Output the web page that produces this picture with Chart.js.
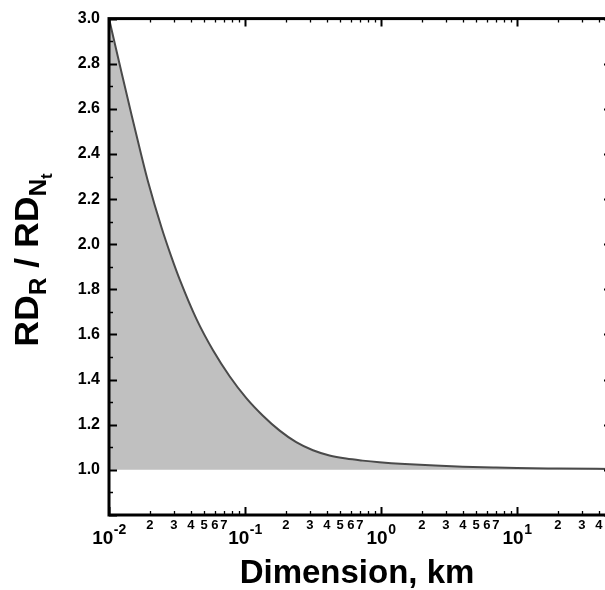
<!DOCTYPE html>
<html>
<head>
<meta charset="utf-8">
<script src="https://cdn.jsdelivr.net/npm/chart.js@4/dist/chart.umd.min.js"></script>
<style>
    html, body {
        margin: 0;
        padding: 0;
        background: #ffffff;
        overflow: hidden;
    }
    #wrap {
        position: relative;
        width: 620px;
        height: 590px;
    }
</style>
</head>
<body>
<div id="wrap"><canvas id="chart"></canvas></div>
<script>
// values
const dimensionKm = [
    0.01, 0.0125, 0.0147, 0.0172, 0.0194, 0.0244, 0.0288, 0.0332, 0.044, 0.0582,
    0.0773, 0.1023, 0.1355, 0.18, 0.238, 0.316, 0.418, 0.554, 0.734, 0.973,
    1.5, 2.5, 4, 7, 10, 20, 50,
];
const ratioValues = [
    3.0, 2.749, 2.569, 2.4, 2.276, 2.072, 1.943, 1.842, 1.668, 1.53,
    1.414, 1.318, 1.24, 1.174, 1.123, 1.087, 1.064, 1.05, 1.041, 1.034,
    1.026, 1.019, 1.014, 1.01, 1.008, 1.006, 1.004,
];
const xDecades = [-2, -1, 0, 1];
const xMinorLabels = ["2", "3", "4", "5", "6", "7"];
const yTickValues = [1.0, 1.2, 1.4, 1.6, 1.8, 2.0, 2.2, 2.4, 2.6, 2.8, 3.0];

const FONT = "'Liberation Sans', Arial, Helvetica, sans-serif";
const INK = "#000000";

const points = dimensionKm.map((x, i) => ({ x, y: ratioValues[i] }));

const frameAndTicks = {
    id: "frameAndTicks",
    afterDatasetsDraw(chart) {
        const { ctx, chartArea } = chart;
        const xs = chart.scales.x;
        const ys = chart.scales.y;
        const { left, right, top, bottom } = chartArea;
        ctx.save();
        ctx.strokeStyle = INK;

        // x ticks, top and bottom, pointing inward
        xDecades.forEach((d) => {
            for (let m = 1; m <= 9; m++) {
                const v = m * Math.pow(10, d);
                if (v > xs.max) {
                    continue;
                }
                const px = Math.round(xs.getPixelForValue(v)) + 0.5;
                const len = m === 1 ? 8 : 4;
                ctx.lineWidth = m === 1 ? 2 : 1.3;
                ctx.beginPath();
                ctx.moveTo(px, bottom);
                ctx.lineTo(px, bottom - len);
                ctx.moveTo(px, top);
                ctx.lineTo(px, top + len);
                ctx.stroke();
            }
        });

        // y ticks, left and right
        for (let k = 8; k <= 30; k++) {
            const py = Math.round(ys.getPixelForValue(k / 10)) + 0.5;
            const major = k % 2 === 0;
            const len = major ? 8 : 4;
            ctx.lineWidth = major ? 2 : 1.3;
            ctx.beginPath();
            ctx.moveTo(left, py);
            ctx.lineTo(left + len, py);
            ctx.moveTo(right, py);
            ctx.lineTo(right - len, py);
            ctx.stroke();
        }

        ctx.lineWidth = 3;
        ctx.strokeRect(left, top, right - left, bottom - top);

        // x tick labels with superscripts
        ctx.fillStyle = INK;
        ctx.textBaseline = "alphabetic";
        xDecades.forEach((d) => {
            const px = xs.getPixelForValue(Math.pow(10, d));
            ctx.font = `bold 19px ${FONT}`;
            const w1 = ctx.measureText("10").width;
            ctx.font = `bold 14px ${FONT}`;
            const sup = String(d);
            const w2 = ctx.measureText(sup).width;
            const x0 = px - (w1 + w2) / 2;
            ctx.textAlign = "left";
            ctx.font = `bold 19px ${FONT}`;
            ctx.fillText("10", x0, 544);
            ctx.font = `bold 14px ${FONT}`;
            ctx.fillText(sup, x0 + w1 + 0.5, 534);

            ctx.textAlign = "center";
            ctx.font = `bold 13px ${FONT}`;
            xMinorLabels.forEach((lab) => {
                const v = Number(lab) * Math.pow(10, d);
                if (v >= xs.max) {
                    return;
                }
                ctx.fillText(lab, xs.getPixelForValue(v), 529);
            });
        });

        // x title
        ctx.textAlign = "center";
        ctx.font = `bold 33px ${FONT}`;
        ctx.fillText("Dimension, km", 357, 583);

        // y title: RD_R / RD_Nt, rotated
        ctx.translate(38, 260);
        ctx.rotate(-Math.PI / 2);
        ctx.scale(1.05, 1);
        const parts = [
            { t: "RD", size: 34, dy: 0 },
            { t: "R", size: 23, dy: 8 },
            { t: " / RD", size: 34, dy: 0 },
            { t: "N", size: 23, dy: 8 },
            { t: "t", size: 16, dy: 14 },
        ];
        let total = 0;
        parts.forEach((p) => {
            ctx.font = `bold ${p.size}px ${FONT}`;
            p.w = ctx.measureText(p.t).width;
            total += p.w;
        });
        let cx = -total / 2;
        ctx.textAlign = "left";
        parts.forEach((p) => {
            ctx.font = `bold ${p.size}px ${FONT}`;
            ctx.fillText(p.t, cx, p.dy);
            cx += p.w;
        });
        ctx.restore();
    },
};

new Chart(document.getElementById("chart").getContext("2d"), {
    type: "line",
    data: {
        datasets: [
            {
                data: points,
                borderColor: "#4a4a4a",
                borderWidth: 2,
                backgroundColor: "#c0c0c0",
                fill: { value: 1.0 },
                pointRadius: 0,
                cubicInterpolationMode: "monotone",
            },
        ],
    },
    options: {
        responsive: true,
        maintainAspectRatio: false,
        animation: false,
        events: [],
        layout: {
            padding: { left: 0, top: 12, right: 8, bottom: 0 },
        },
        plugins: {
            legend: { display: false },
            tooltip: { enabled: false },
        },
        scales: {
            x: {
                type: "logarithmic",
                min: 0.01,
                max: 50,
                grid: { display: false, drawTicks: false },
                border: { display: false },
                ticks: { display: false },
                afterFit: (scale) => {
                    scale.height = 75;
                },
            },
            y: {
                type: "linear",
                min: 0.8,
                max: 3.0,
                afterBuildTicks: (scale) => {
                    scale.ticks = yTickValues.map((value) => ({ value }));
                },
                grid: { display: false, drawTicks: false },
                border: { display: false },
                ticks: {
                    color: INK,
                    padding: 9,
                    font: { family: FONT, size: 16, weight: "bold" },
                    callback: (value) => Number(value).toFixed(1),
                },
                afterFit: (scale) => {
                    scale.width = 109;
                },
            },
        },
    },
    plugins: [frameAndTicks],
});
</script>
</body>
</html>
